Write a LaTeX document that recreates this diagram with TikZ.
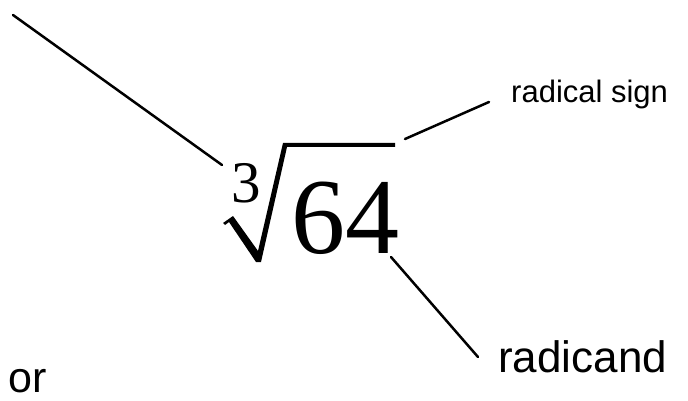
\documentclass[tikz,border=0pt]{standalone}
\usepackage{fontspec}
\setmainfont{Liberation Serif}
\setsansfont{Liberation Sans}
\begin{document}
\begin{tikzpicture}[x=1pt, y=-1pt,
    leader/.style={line width=2.5pt, line cap=round},
    lbl/.style={draw=none, inner sep=0pt, anchor=base west}]

    \useasboundingbox (0,0) rectangle (688,401);

    \node[lbl, node font=\fontsize{59}{59}\selectfont] (idx) at (231,202) {3};
    \node[lbl, node font=\fontsize{108}{108}\selectfont] (num) at (291,253) {64};
    \fill (223,223) -- (233,216) -- (258,251) -- (283,143) -- (395,143) -- (395,147)
        -- (287,147) -- (261,262) -- (256,262) -- (229,222) -- (225,225) -- cycle;

    \node[lbl, node font=\fontsize{31}{31}\selectfont\sffamily] (signlabel) at (511,103) {radical sign};
    \node[lbl, node font=\fontsize{44}{44}\selectfont\sffamily] (radicandlabel) at (498,372) {radicand};
    \node[lbl, node font=\fontsize{43}{43}\selectfont\sffamily] (orlabel) at (8,392) {or};

    \coordinate (idxfar) at (13,15);
    \coordinate (idxnear) at (222,165);
    \coordinate (signnear) at (405,139);
    \coordinate (signfar) at (489,102);
    \coordinate (numnear) at (391,257);
    \coordinate (numfar) at (478,357);

    \draw[leader] (idxfar) -- (idxnear);
    \draw[leader] (signnear) -- (signfar);
    \draw[leader] (numnear) -- (numfar);

\end{tikzpicture}
\end{document}
